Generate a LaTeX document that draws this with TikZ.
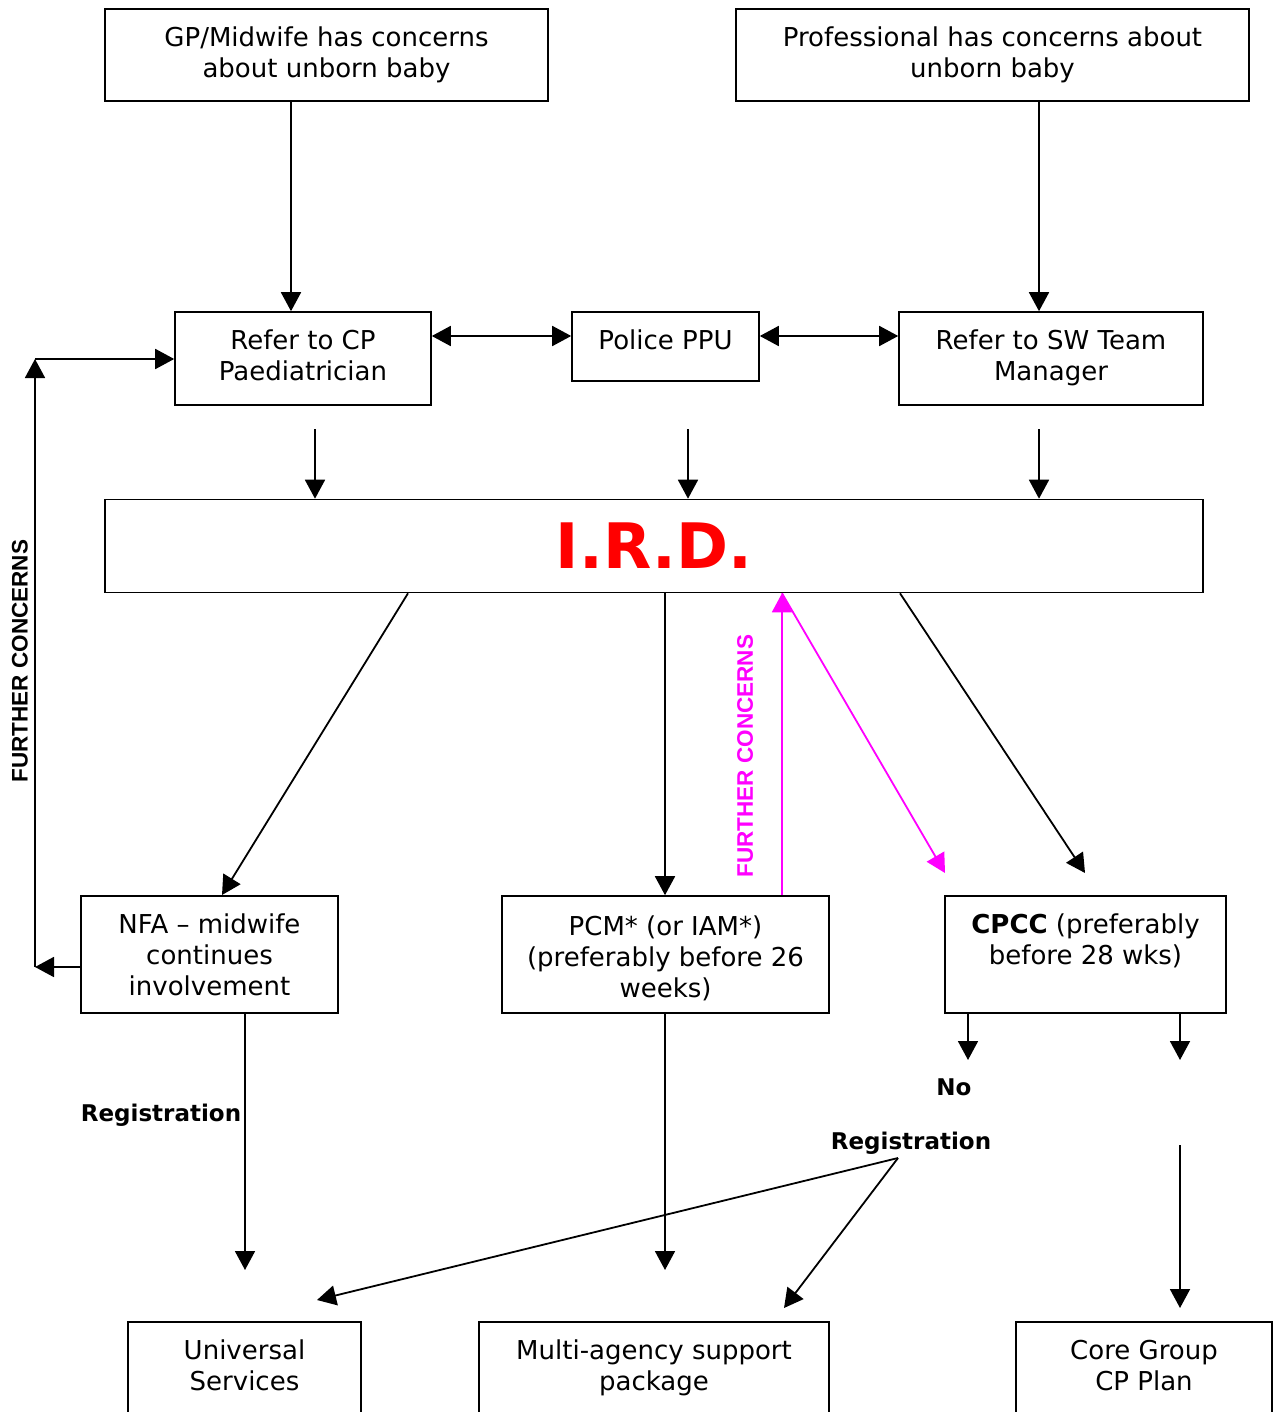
\documentclass[tikz,border=0pt]{standalone}
\usepackage{fontspec}
\setmainfont{DejaVu Sans}
\newfontfamily\arialfont{Liberation Sans}
\usetikzlibrary{arrows.meta}
\definecolor{pinkline}{RGB}{255,0,255}
\definecolor{irdred}{RGB}{255,0,0}
\begin{document}
\begin{tikzpicture}[x=1pt,y=-1pt,
  box/.style={draw,line width=1.6pt,inner sep=0pt,align=center,font=\fontsize{26}{31}\selectfont},
  txt/.style={inner sep=0pt,align=center,font=\fontsize{26}{31}\selectfont},
  arr/.style={line width=1.8pt,-{Triangle[length=19pt,width=20pt]}},
  darr/.style={line width=1.8pt,{Triangle[length=19pt,width=20pt]}-{Triangle[length=19pt,width=20pt]}},
  parr/.style={arr,draw=pinkline,color=pinkline},
  lbl/.style={font=\fontsize{23}{27}\selectfont\bfseries,inner sep=0pt},
  side/.style={font=\arialfont\fontsize{22.5}{26}\selectfont\bfseries,inner sep=0pt,rotate=90}]
\useasboundingbox (0,0) rectangle (1273,1412);
\clip (0,0) rectangle (1273,1412);
\fill[white] (0,0) rectangle (1273,1412);

% boxes
\node[box,minimum width=443pt,minimum height=92pt] (A) at (326.5,55) {GP/Midwife has concerns\\about unborn baby};
\node[box,minimum width=513pt,minimum height=92pt] (B) at (992.5,55) {Professional has concerns about\\unborn baby};
\node[box,minimum width=256pt,minimum height=93pt] (C) at (303,358.5) {};
\node[txt] (Ct) at (303,355) {Refer to CP\\Paediatrician};
\node[box,minimum width=187pt,minimum height=69pt] (D) at (665.5,346.5) {};
\node[txt] (Dt) at (665.5,340) {Police PPU};
\node[box,minimum width=304pt,minimum height=93pt] (E) at (1051,358.5) {};
\node[txt] (Et) at (1051,358) {Refer to SW Team\\Manager};
\node[box,minimum width=1098pt,minimum height=93pt,font=\fontsize{62.7}{70}\selectfont\bfseries,text=irdred] (I) at (654,546) {I.R.D.};
\node[box,minimum width=257pt,minimum height=117pt] (F) at (209.5,954.5) {NFA – midwife\\continues\\involvement};
\node[box,minimum width=327pt,minimum height=117pt] (G) at (665.5,954.5) {};
\node[txt] (Gt) at (665.5,958) {PCM* (or IAM*)\\(preferably before 26\\weeks)};
\node[box,minimum width=281pt,minimum height=117pt] (H) at (1085.5,954.5) {\textbf{CPCC} (preferably\\before 28 wks)\\\mbox{}};
\node[box,minimum width=233pt,minimum height=118pt] (U) at (244.5,1381) {Universal\\Services\\\mbox{}};
\node[box,minimum width=350pt,minimum height=118pt] (M) at (654,1381) {Multi-agency support\\package\\\mbox{}};
\node[box,minimum width=256pt,minimum height=118pt] (K) at (1144,1381) {Core Group\\CP Plan\\\mbox{}};

% labels
\node[lbl] (reg1) at (161,1115) {Registration};
\node[lbl] (no) at (954,1087) {No};
\node[lbl] (reg2) at (911,1143) {Registration};
\node[side] (fc1) at (20,661) {FURTHER CONCERNS};
\node[side,text=pinkline] (fc2) at (745,756) {FURTHER CONCERNS};

% helper coordinates
\coordinate (xa) at (291,0);
\coordinate (xb) at (1039,0);
\coordinate (h1) at (0,336);
\coordinate (t1) at (315,429);
\coordinate (t2) at (688,429);
\coordinate (t3) at (1039,429);
\coordinate (s1) at (408,0);
\coordinate (s2) at (665,0);
\coordinate (s3) at (900,0);
\coordinate (e1) at (222,895);
\coordinate (e3) at (1085,873);
\coordinate (p1) at (782,0);
\coordinate (e4) at (945,873);
\coordinate (ly) at (0,967);
\coordinate (L1) at (35,967);
\coordinate (L2) at (35,359);
\coordinate (xf) at (245,0);
\coordinate (ef) at (245,1270);
\coordinate (eg) at (665,1270);
\coordinate (n1) at (968,1060);
\coordinate (n2) at (1180,1060);
\coordinate (n3) at (1180,1145);
\coordinate (n4) at (1180,1308);
\coordinate (r0) at (898,1158);
\coordinate (r1) at (317,1300);
\coordinate (r2) at (784,1308);

% connectors
\draw[arr] (A.south -| xa) -- (C.north -| xa);
\draw[arr] (B.south -| xb) -- (E.north -| xb);
\draw[darr] (C.east |- h1) -- (D.west |- h1);
\draw[darr] (D.east |- h1) -- (E.west |- h1);
\draw[arr] (t1) -- (t1 |- I.north);
\draw[arr] (t2) -- (t2 |- I.north);
\draw[arr] (t3) -- (t3 |- I.north);
\draw[arr] (I.south -| s1) -- (e1);
\draw[arr] (I.south -| s2) -- (G.north -| s2);
\draw[arr] (I.south -| s3) -- (e3);
\draw[parr] (G.north -| p1) -- (I.south -| p1);
\draw[parr] (I.south -| p1) -- (e4);
\draw[arr] (F.west |- ly) -- (L1);
\draw[arr] (L1) -- (L2);
\draw[arr] (L2) -- (C.west |- L2);
\draw[arr] (F.south -| xf) -- (ef);
\draw[arr] (G.south -| s2) -- (eg);
\draw[arr] (H.south -| n1) -- (n1);
\draw[arr] (H.south -| n2) -- (n2);
\draw[arr] (n3) -- (n4);
\draw[arr] (r0) -- (r1);
\draw[arr] (r0) -- (r2);
\end{tikzpicture}
\end{document}
